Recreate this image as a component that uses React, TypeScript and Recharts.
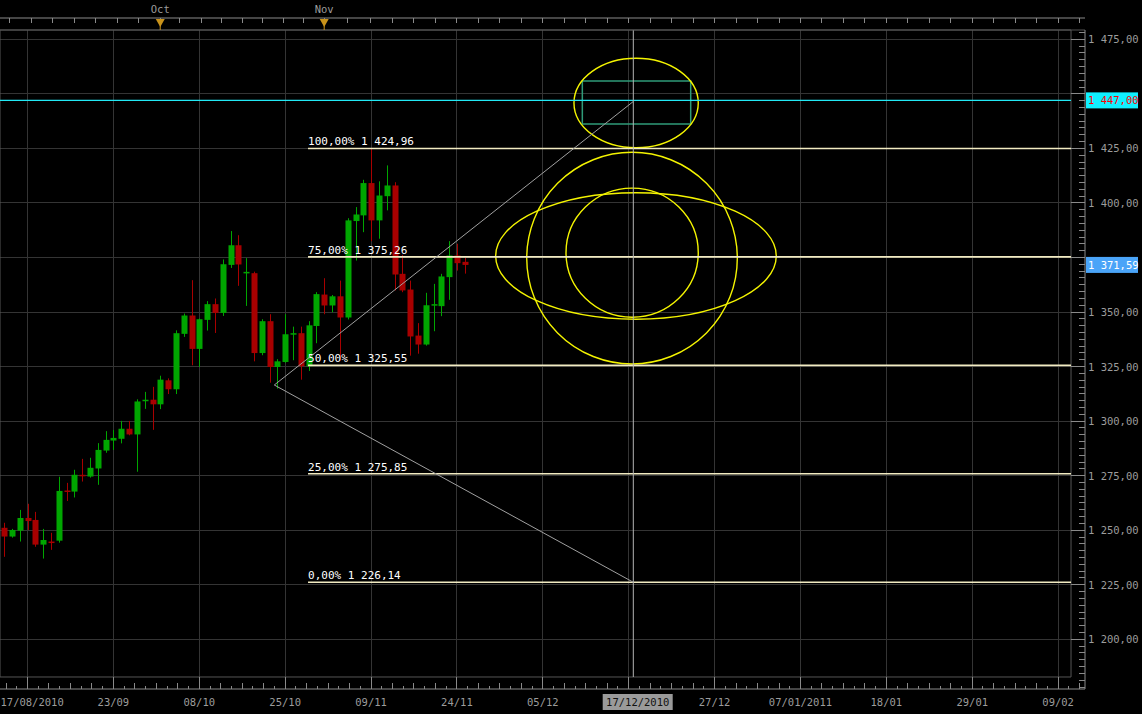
import React from 'react';
import {
  ComposedChart, Bar, XAxis, YAxis, CartesianGrid, ReferenceLine, ReferenceArea,
} from 'recharts';

const days = [
  '03/09', '06/09', '07/09', '08/09', '09/09', '10/09', '13/09', '14/09', '15/09', '16/09',
  '17/09', '20/09', '21/09', '22/09', '23/09', '24/09', '27/09', '28/09', '29/09', '30/09',
  '01/10', '04/10', '05/10', '06/10', '07/10', '08/10', '11/10', '12/10', '13/10', '14/10',
  '15/10', '18/10', '19/10', '20/10', '21/10', '22/10', '25/10', '26/10', '27/10', '28/10',
  '29/10', '01/11', '02/11', '03/11', '04/11', '05/11', '08/11', '09/11', '10/11', '11/11',
  '12/11', '15/11', '16/11', '17/11', '18/11', '19/11', '22/11', '23/11', '24/11', '25/11',
];
const opens = [
  1251.1, 1247.1, 1249.8, 1255.6, 1254.7, 1243.4, 1244.8, 1245.2, 1268.2, 1267.7,
  1275.4, 1274.6, 1278.3, 1286.5, 1291.1, 1291.9, 1296.5, 1293.9, 1309.2, 1309.8,
  1307.7, 1318.7, 1314.6, 1340.0, 1348.4, 1333.1, 1346.4, 1353.6, 1349.6, 1371.6,
  1380.6, 1367.8, 1367.8, 1331.2, 1345.8, 1324.8, 1327.1, 1339.7, 1340.3, 1325.1,
  1343.6, 1358.0, 1353.0, 1357.2, 1347.5, 1391.7, 1394.3, 1409.1, 1392.0, 1403.1,
  1408.0, 1367.5, 1360.3, 1339.2, 1335.1, 1353.2, 1352.7, 1366.0, 1375.9, 1373.0,
];
const highs = [
  1253.4, 1250.6, 1259.3, 1262.1, 1258.4, 1250.6, 1248.8, 1274.5, 1271.7, 1277.7,
  1282.7, 1283.2, 1289.9, 1295.4, 1295.9, 1300.1, 1300.1, 1310.0, 1313.4, 1315.7,
  1320.8, 1319.6, 1341.6, 1349.3, 1364.6, 1347.0, 1355.0, 1356.2, 1374.1, 1387.1,
  1385.2, 1374.7, 1368.5, 1346.7, 1349.0, 1328.4, 1349.0, 1343.3, 1343.3, 1345.8,
  1359.1, 1365.5, 1357.8, 1364.4, 1393.0, 1398.1, 1410.6, 1424.96, 1409.9, 1417.2,
  1409.5, 1376.2, 1364.4, 1344.9, 1358.8, 1362.9, 1367.5, 1382.5, 1381.3, 1374.9,
];
const lows = [
  1237.8, 1246.6, 1244.8, 1250.1, 1242.4, 1237.0, 1241.0, 1244.3, 1263.4, 1265.0,
  1272.3, 1274.1, 1270.8, 1285.5, 1286.8, 1289.8, 1293.5, 1276.8, 1305.6, 1296.0,
  1305.5, 1312.4, 1312.4, 1338.6, 1325.6, 1324.8, 1341.5, 1340.4, 1348.2, 1370.2,
  1362.0, 1352.8, 1327.4, 1330.2, 1317.6, 1314.9, 1326.7, 1327.9, 1319.0, 1323.0,
  1335.7, 1349.0, 1349.9, 1327.8, 1346.6, 1373.6, 1386.6, 1382.5, 1383.6, 1396.6,
  1359.9, 1359.1, 1330.0, 1330.9, 1334.6, 1341.2, 1348.1, 1355.6, 1369.0, 1367.6,
];
const closes = [
  1247.1, 1250.1, 1255.6, 1254.2, 1243.4, 1245.5, 1244.2, 1268.0, 1267.6, 1275.4,
  1274.8, 1278.6, 1286.8, 1291.4, 1292.3, 1296.5, 1293.9, 1309.0, 1309.8, 1307.7,
  1319.0, 1314.6, 1340.3, 1348.4, 1333.1, 1346.7, 1353.6, 1349.6, 1371.9, 1380.6,
  1371.8, 1368.4, 1331.2, 1345.8, 1324.8, 1327.4, 1339.8, 1340.3, 1325.1, 1343.9,
  1358.2, 1353.0, 1357.2, 1347.5, 1392.0, 1394.7, 1409.1, 1392.0, 1403.4, 1408.0,
  1367.2, 1359.9, 1338.8, 1335.1, 1353.1, 1353.6, 1366.3, 1375.9, 1372.4, 1371.59,
];

// retracement levels
const fibPct = [100, 75, 50, 25, 0];
const fibLevels = [1424.96, 1375.26, 1325.55, 1275.85, 1226.14];
const fibStart = 38.93;

// bottom axis
const dateTickIdx = [3, 14, 25, 36, 47, 58, 69, 80, 91, 102, 113, 124, 135];
const dateTickLabels = [
  '17/08/2010', '23/09', '08/10', '25/10', '09/11', '24/11', '05/12',
  '17/12/2010', '27/12', '07/01/2011', '18/01', '29/01', '09/02',
];
const cursorLabel = '17/12/2010';
const cursorIdx = 80.59;

// top strip
const monthIdx = [20, 41];
const monthNames = ['Oct', 'Nov'];
const topTickIdx = [
  0.67, 3.54, 6.23, 8.96, 11.74, 14.5, 17.24, 20, 22.53, 25.26, 27.91, 30.51,
  33.16, 35.81, 38.41, 41, 43.96, 46.87, 49.72,
];

// price axis
const priceTicks = [1200, 1225, 1250, 1275, 1300, 1325, 1350, 1375, 1400, 1425, 1450, 1475];
const targetPrice = 1447;
const lastPrice = 1371.59;

// drawn objects (data coords)
const fanStart = { i: 34.61, p: 1316.55 };
const fanEnds = [1446.5, 1226.14];
const arcBoxes = [
  { x1: 72.99, x2: 88.91, y1: 1425.3, y2: 1466.3 },
  { x1: 66.94, x2: 93.91, y1: 1326.2, y2: 1423.2 },
  { x1: 71.97, x2: 88.91, y1: 1347.6, y2: 1406.8 },
  { x1: 62.96, x2: 98.9, y1: 1346.7, y2: 1404.7 },
];
const boxZone = { x1: 74.06, x2: 87.94, y1: 1436.2, y2: 1455.9 };

const X_DOMAIN: [number, number] = [-0.521, 138.44];
const Y_DOMAIN: [number, number] = [1177.22, 1479.26];
const FRAME_RIGHT = 136.65;
const FRAME_BOTTOM = 1182.72;

const MONO = '"DejaVu Sans Mono", monospace';
const AXIS_GREY = '#8a8a8a';
const LABEL_GREY = '#9c9c9c';

const rows = days.map((d, i) => ({
  i, date: d, open: opens[i], high: highs[i], low: lows[i], close: closes[i],
  range: [lows[i], highs[i]],
}));

const minorX: number[] = [];
for (let k = -2; 3 + k * 1.375 <= X_DOMAIN[1]; k++) minorX.push(3 + k * 1.375);

const topTicks = [...topTickIdx];
for (let v = 52.5; v < X_DOMAIN[1]; v += 2.75) topTicks.push(v);

const yTicks: number[] = [];
for (let k = -7; 1200 + k * 3.125 < Y_DOMAIN[1]; k++) yTicks.push(1200 + k * 3.125);
yTicks.push(lastPrice, targetPrice);

const fmt = (v: number) => {
  const [a, b] = v.toFixed(2).split('.');
  return a.replace(/\B(?=(\d{3})+(?!\d))/g, ' ') + ',' + b;
};

const Candle = (p: any) => {
  const { x, width, payload } = p;
  const y = p.height < 0 ? p.y + p.height : p.y;
  const h = Math.abs(p.height);
  const { open, close, high, low } = payload;
  const k = h / (high - low);
  const yOf = (v: number) => y + (high - v) * k;
  const col = close >= open ? '#00a600' : '#a80000';
  const cx = Math.round(x + width / 2);
  const top = yOf(Math.max(open, close));
  const bh = Math.max(Math.abs(open - close) * k, 1.5);
  return (
    <g>
      <line x1={cx + 0.5} x2={cx + 0.5} y1={y} y2={y + h} stroke={col} strokeWidth={1} />
      <rect x={cx - 2.5} y={top} width={6} height={bh} fill={col} />
    </g>
  );
};

const ArcShape = (p: any) => (
  <ellipse
    cx={p.x + p.width / 2} cy={p.y + p.height / 2}
    rx={Math.abs(p.width) / 2} ry={Math.abs(p.height) / 2}
    fill="none" stroke="#f4f400" strokeWidth={1.4}
  />
);

const BottomTick = (p: any) => {
  const { x, y, payload } = p;
  const v = payload.value as number;
  const j = dateTickIdx.findIndex((t) => Math.abs(t - v) < 0.01);
  if (j < 0) {
    const k = Math.round((v - 3) / 1.375);
    const len = k % 2 === 0 ? 6 : 3;
    return <line x1={x} x2={x} y1={y} y2={y - len} stroke={AXIS_GREY} shapeRendering="crispEdges" />;
  }
  const label = dateTickLabels[j];
  const hl = label === cursorLabel;
  return (
    <g>
      <line x1={x} x2={x} y1={y - 12} y2={y} stroke={AXIS_GREY} shapeRendering="crispEdges" />
      {hl && <rect x={x - 26} y={y + 5} width={70} height={16} fill="#9a9a9a" />}
      <text
        x={j === 0 ? x - 27 : hl ? x + 9 : x}
        y={y + 17}
        textAnchor={j === 0 ? 'start' : 'middle'}
        fontFamily={MONO} fontSize={10.5}
        fill={hl ? '#111' : LABEL_GREY}
      >
        {label}
      </text>
    </g>
  );
};

const TopTick = (p: any) => {
  const { x, y, payload } = p;
  const m = monthIdx.findIndex((t) => Math.abs(t - payload.value) < 0.01);
  return (
    <g>
      <line x1={x} x2={x} y1={y} y2={y + 5} stroke={AXIS_GREY} shapeRendering="crispEdges" />
      {m >= 0 && (
        <g>
          <line x1={x} x2={x} y1={y + 1} y2={y + 12} stroke="#c8921a" />
          <path d={`M${x - 4.5},${y + 1} L${x + 4.5},${y + 1} L${x},${y + 9} Z`} fill="#c8921a" />
          <text x={x} y={y - 5} textAnchor="middle" fontFamily={MONO} fontSize={10.5} fill={LABEL_GREY}>
            {monthNames[m]}
          </text>
        </g>
      )}
    </g>
  );
};

const RightTick = (p: any) => {
  const { x, y, payload } = p;
  const v = payload.value as number;
  if (v === targetPrice || v === lastPrice) {
    const target = v === targetPrice;
    return (
      <g>
        <rect x={x + 1} y={y - 8} width={52} height={16} fill={target ? '#10f0ff' : '#4aa4f8'} />
        <text x={x + 3} y={y + 4} fontFamily={MONO} fontSize={10.5} fill={target ? '#ff0000' : '#ffffff'}>
          {fmt(v)}
        </text>
      </g>
    );
  }
  const major = Math.abs(v % 25) < 0.01;
  if (!major) {
    return <line x1={x - 6} x2={x} y1={y} y2={y} stroke={AXIS_GREY} shapeRendering="crispEdges" />;
  }
  const covered = Math.abs(v - targetPrice) < 5 || Math.abs(v - lastPrice) < 5;
  return (
    <g>
      <line x1={x - 14} x2={x} y1={y} y2={y} stroke={AXIS_GREY} shapeRendering="crispEdges" />
      {!covered && (
        <text x={x + 3} y={y + 4} fontFamily={MONO} fontSize={10.5} fill={LABEL_GREY}>
          {fmt(v)}
        </text>
      )}
    </g>
  );
};

const fibLabel = (text: string) => (props: any) => {
  const vb = props.viewBox || {};
  return (
    <text x={vb.x} y={vb.y - 3} fontFamily={MONO} fontSize={11} fill="#ffffff">
      {text}
    </text>
  );
};

export default function App() {
  return (
    <div style={{ position: 'absolute', left: 0, top: 0, width: 1142, height: 714, background: '#000' }}>
      <ComposedChart width={1142} height={714} data={rows} margin={{ top: 0, right: 0, bottom: 0, left: 0 }}>
        <CartesianGrid
          stroke="#343434"
          horizontalValues={priceTicks}
          verticalValues={dateTickIdx}
          shapeRendering="crispEdges"
        />
        <XAxis
          dataKey="i" type="number" domain={X_DOMAIN} allowDataOverflow
          ticks={minorX} interval={0} tick={<BottomTick />} tickLine={false}
          tickSize={0} tickMargin={0} height={25}
          axisLine={{ stroke: AXIS_GREY }}
        />
        <XAxis
          xAxisId="t1" dataKey="i" orientation="top" type="number" domain={X_DOMAIN} allowDataOverflow
          height={12} tick={false} tickLine={false} axisLine={{ stroke: '#555' }}
        />
        <XAxis
          xAxisId="t2" dataKey="i" orientation="top" type="number" domain={X_DOMAIN} allowDataOverflow
          ticks={topTicks} interval={0} tick={<TopTick />} tickLine={false}
          tickSize={0} tickMargin={0} height={18} axisLine={{ stroke: AXIS_GREY }}
        />
        <YAxis
          orientation="right" type="number" domain={Y_DOMAIN} allowDataOverflow
          ticks={yTicks} interval={0} tick={<RightTick />} tickLine={false}
          tickSize={0} tickMargin={0} width={57} axisLine={{ stroke: AXIS_GREY }}
        />

        <ReferenceArea
          x1={X_DOMAIN[0]} x2={FRAME_RIGHT} y1={FRAME_BOTTOM} y2={Y_DOMAIN[1]}
          fill="none" stroke="#555" fillOpacity={0} ifOverflow="visible"
        />

        <Bar dataKey="range" barSize={6} shape={<Candle />} isAnimationActive={false} />

        {fibLevels.map((lv, n) => (
          <ReferenceLine
            key={lv}
            segment={[{ x: fibStart, y: lv }, { x: FRAME_RIGHT, y: lv }]}
            stroke="#f2ebc2" strokeWidth={1.6} ifOverflow="visible"
            label={fibLabel(`${fibPct[n]},00% ${fmt(lv)}`)}
          />
        ))}

        <ReferenceLine
          segment={[{ x: X_DOMAIN[0], y: targetPrice }, { x: FRAME_RIGHT, y: targetPrice }]}
          stroke="#22e8f4" strokeWidth={1.2} ifOverflow="visible"
        />

        <ReferenceLine
          segment={[{ x: cursorIdx, y: Y_DOMAIN[1] }, { x: cursorIdx, y: FRAME_BOTTOM }]}
          stroke="#b4b4b4" strokeWidth={1} ifOverflow="visible"
        />

        {fanEnds.map((p) => (
          <ReferenceLine
            key={p}
            segment={[{ x: fanStart.i, y: fanStart.p }, { x: cursorIdx, y: p }]}
            stroke="#a0a0a0" strokeWidth={1} ifOverflow="visible"
          />
        ))}

        <ReferenceArea
          x1={boxZone.x1} x2={boxZone.x2} y1={boxZone.y1} y2={boxZone.y2}
          fill="none" fillOpacity={0} stroke="#2f9a78" strokeWidth={1.5} ifOverflow="visible"
        />

        {arcBoxes.map((b, n) => (
          <ReferenceArea
            key={n}
            x1={b.x1} x2={b.x2} y1={b.y1} y2={b.y2}
            shape={<ArcShape />} ifOverflow="visible"
          />
        ))}
      </ComposedChart>
    </div>
  );
}
